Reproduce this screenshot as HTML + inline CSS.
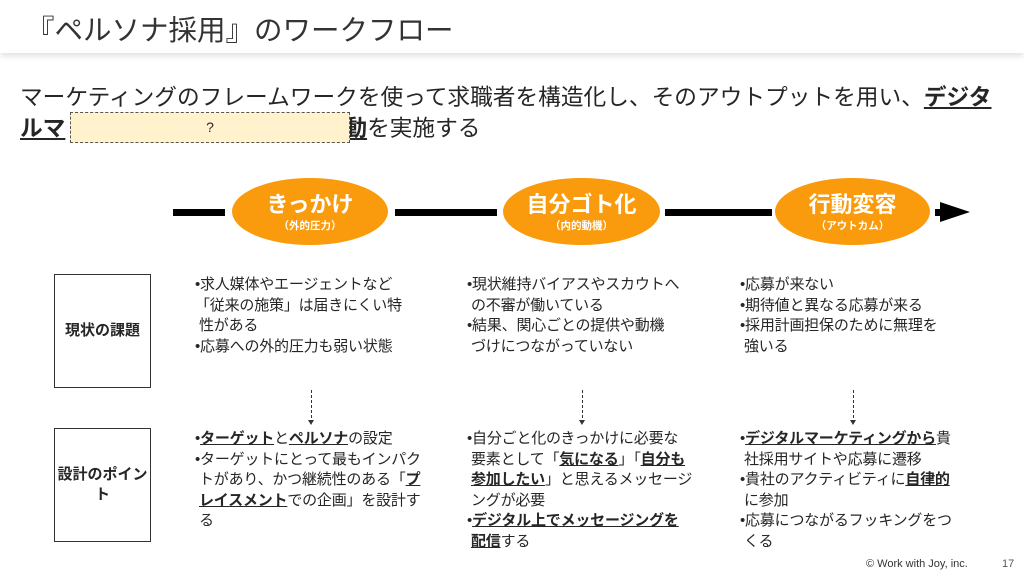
<!DOCTYPE html>
<html><head><meta charset="utf-8"><style>
*{margin:0;padding:0;box-sizing:border-box}
body{width:1024px;height:576px;background:#fff;position:relative;overflow:hidden;font-family:"Liberation Sans","Noto Sans CJK JP",sans-serif;color:#262626}
.a{position:absolute;white-space:nowrap}
.hdr{position:absolute;left:0;top:0;width:1024px;height:53px;background:#fff;box-shadow:0 3px 6px rgba(0,0,0,0.12)}
.col{position:absolute;font-size:15px;line-height:20.5px;white-space:nowrap;letter-spacing:-0.2px}
.b{font-weight:bold;text-decoration:underline}
.ell{position:absolute;background:#f99b0c;border-radius:50%;color:#fff;text-align:center;font-weight:bold}
.ell .m{font-size:22px;line-height:26px;margin-top:14px}
.ell .s{font-size:10.5px;line-height:14px;margin-top:1px}
.bar{position:absolute;height:7px;background:#000;top:209px}
.box{position:absolute;left:54px;width:97px;height:114px;border:1px solid #333;display:flex;align-items:center;justify-content:center;text-align:center;font-size:15px;font-weight:bold;line-height:20px}
.dash{position:absolute;width:0;border-left:1px dashed #333;top:390px;height:33px}
.dash:after{content:"";position:absolute;left:-4px;bottom:-2px;border-left:3.5px solid transparent;border-right:3.5px solid transparent;border-top:5px solid #333}
</style></head><body>
<div class="hdr"></div>
<div class="a" style="left:26px;top:8px;font-size:28.5px;color:#333">『ペルソナ採用』のワークフロー</div>
<div class="a" style="left:20px;top:82px;font-size:22.7px;line-height:31px;color:#262626">マーケティングのフレームワークを使って求職者を構造化し、そのアウトプットを用い、<span class="b">デジタ</span><br><span class="b">ルマ</span><span style="display:inline-block;width:279px"></span><span class="b">動</span>を実施する</div>
<div class="a" style="left:70px;top:112px;width:280px;height:31px;background:#fff2cc;border:1px dashed #555;font-size:14px;text-align:center;line-height:29px">?</div>

<div class="bar" style="left:173px;width:52px"></div>
<div class="bar" style="left:395px;width:102px"></div>
<div class="bar" style="left:665px;width:107px"></div>
<div class="bar" style="left:935px;width:12px"></div>
<div class="a" style="left:940px;top:202px;border-top:10px solid transparent;border-bottom:10px solid transparent;border-left:30px solid #000"></div>

<div class="ell" style="left:232px;top:178px;width:156px;height:67px"><div class="m">きっかけ</div><div class="s">（外的圧力）</div></div>
<div class="ell" style="left:503px;top:178px;width:157px;height:67px"><div class="m">自分ゴト化</div><div class="s">（内的動機）</div></div>
<div class="ell" style="left:775px;top:178px;width:155px;height:67px"><div class="m">行動変容</div><div class="s">（アウトカム）</div></div>

<div class="box" style="top:274px">現状の課題</div>
<div class="box" style="top:428px">設計のポイント</div>

<div class="col" style="left:195px;top:275px">•求人媒体やエージェントなど<br>「従来の施策」は届きにくい特<br>&nbsp;性がある<br>•応募への外的圧力も弱い状態</div>
<div class="col" style="left:467px;top:275px">•現状維持バイアスやスカウトへ<br>&nbsp;の不審が働いている<br>•結果、関心ごとの提供や動機<br>&nbsp;づけにつながっていない</div>
<div class="col" style="left:740px;top:275px">•応募が来ない<br>•期待値と異なる応募が来る<br>•採用計画担保のために無理を<br>&nbsp;強いる</div>

<div class="dash" style="left:311px"></div>
<div class="dash" style="left:582px"></div>
<div class="dash" style="left:853px"></div>

<div class="col" style="left:195px;top:429px">•<span class="b">ターゲット</span>と<span class="b">ペルソナ</span>の設定<br>•ターゲットにとって最もインパク<br>&nbsp;トがあり、かつ継続性のある「<span class="b">プ</span><br>&nbsp;<span class="b">レイスメント</span>での企画」を設計す<br>&nbsp;る</div>
<div class="col" style="left:467px;top:429px">•自分ごと化のきっかけに必要な<br>&nbsp;要素として「<span class="b">気になる</span>」「<span class="b">自分も</span><br>&nbsp;<span class="b">参加したい</span>」と思えるメッセージ<br>&nbsp;ングが必要<br>•<span class="b">デジタル上でメッセージングを</span><br>&nbsp;<span class="b">配信</span>する</div>
<div class="col" style="left:740px;top:429px">•<span class="b">デジタルマーケティングから</span>貴<br>&nbsp;社採用サイトや応募に遷移<br>•貴社のアクティビティに<span class="b">自律的</span><br>&nbsp;に参加<br>•応募につながるフッキングをつ<br>&nbsp;くる</div>

<div class="a" style="left:866px;top:558px;font-size:11px;color:#333">© Work with Joy, inc.</div>
<div class="a" style="left:1002px;top:558px;font-size:11px;color:#555">17</div>
</body></html>
